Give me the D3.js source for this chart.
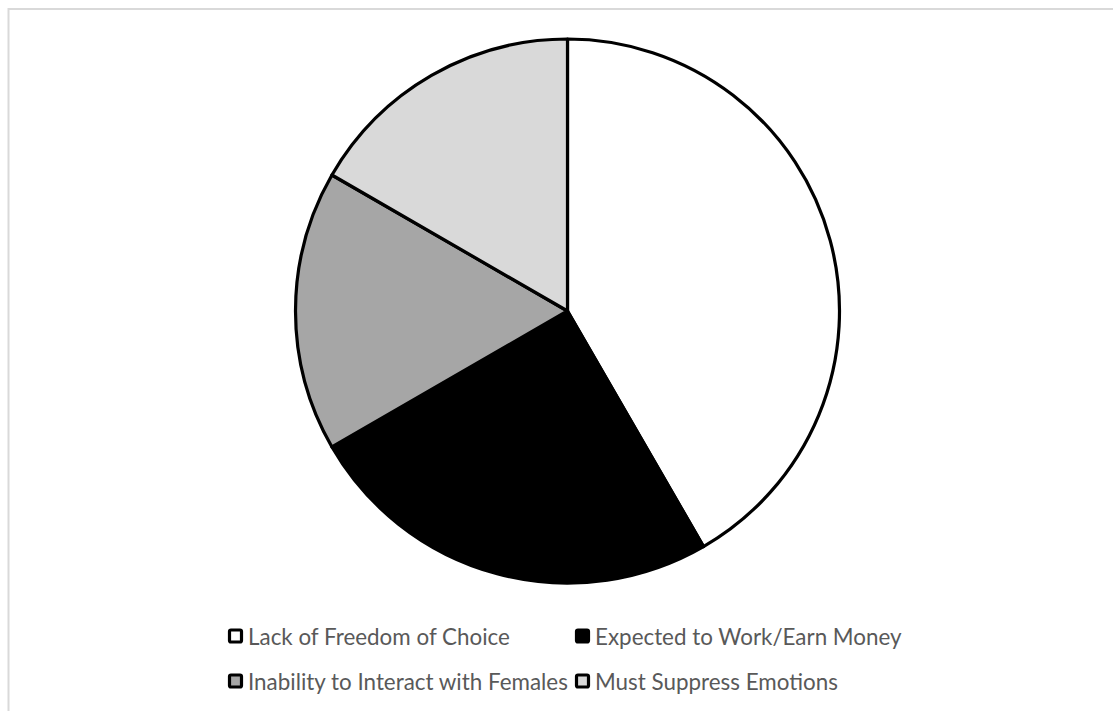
<!DOCTYPE html>
<html>
<head>
<meta charset="utf-8">
<script src="https://cdn.jsdelivr.net/npm/d3@7"></script>
<style>
  html, body { margin: 0; padding: 0; background: #ffffff; }
  svg { display: block; }
</style>
</head>
<body>
<svg id="chart" width="1113" height="711"></svg>
<script>
// Reasons cited, share of responses
const categories = [
  "Lack of Freedom of Choice",
  "Expected to Work/Earn Money",
  "Inability to Interact with Females",
  "Must Suppress Emotions"
];
const values = [5, 3, 2, 2];
const fills = ["#ffffff", "#000000", "#a6a6a6", "#d9d9d9"];

const svg = d3.select("#chart");

// chart area frame (extends past the right/bottom edges)
svg.append("rect")
  .attr("x", 8.5).attr("y", 9)
  .attr("width", 1120).attr("height", 720)
  .attr("fill", "#ffffff")
  .attr("stroke", "#d9d9d9")
  .attr("stroke-width", 2);

const cx = 567.5, cy = 311, r = 272;

const pie = d3.pie().sort(null).value(d => d.v);
const arc = d3.arc().innerRadius(0).outerRadius(r);
const data = categories.map((c, i) => ({ c, v: values[i], f: fills[i] }));

const g = svg.append("g").attr("transform", `translate(${cx},${cy})`);
g.selectAll("path")
  .data(pie(data))
  .join("path")
  .attr("d", arc)
  .attr("fill", d => d.data.f)
  .attr("stroke", "#000000")
  .attr("stroke-width", 3.2)
  .attr("stroke-linejoin", "round");

// legend: two columns, two rows
const legend = svg.append("g")
  .attr("font-family", "Lato, 'Open Sans', sans-serif")
  .attr("fill", "#595959");

const colX = [228, 575];
const rowY = [637, 682];
const box = 14;

const items = legend.selectAll("g.item")
  .data(data)
  .join("g")
  .attr("class", "item")
  .attr("transform", (d, i) => `translate(${colX[i % 2]},${rowY[Math.floor(i / 2)]})`);

items.append("rect")
  .attr("x", 1.5).attr("y", -box / 2)
  .attr("width", box - 2).attr("height", box - 2)
  .attr("rx", 1.5)
  .attr("fill", d => d.f)
  .attr("stroke", "#000000")
  .attr("stroke-width", 3.2);

const labels = items.append("text")
  .attr("x", 20)
  .attr("dy", "0.35em")
  .attr("font-size", 18)
  .text(d => d.c);

// size the legend text so the longest label spans its column
const longest = labels.filter((d, i) => i === 2).node();
const w18 = longest.getComputedTextLength();
const fs = 18 * 320 / w18;
labels.attr("font-size", fs.toFixed(2));
</script>
</body>
</html>
